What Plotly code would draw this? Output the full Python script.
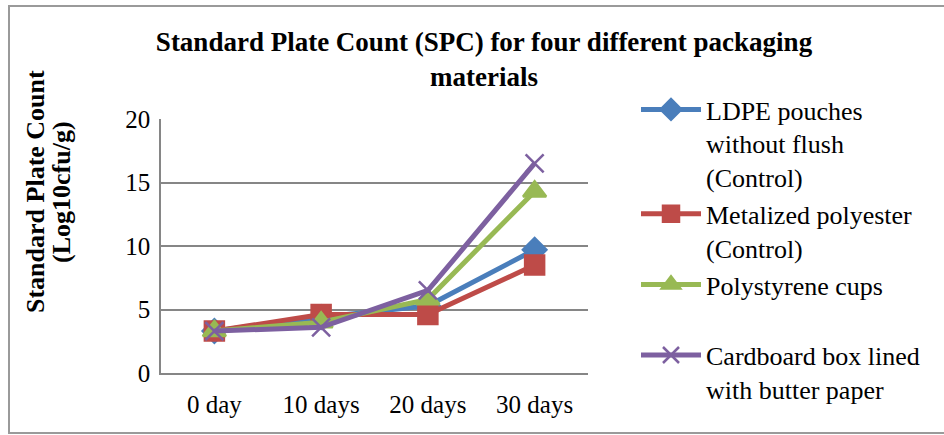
import plotly.graph_objects as go

categories = ["0 day", "10 days", "20 days", "30 days"]
ldpe = [3.3, 4.4, 5.3, 9.7]
metalized = [3.3, 4.6, 4.6, 8.5]
polystyrene = [3.3, 4.0, 5.8, 14.3]
cardboard = [3.3, 3.6, 6.5, 16.5]

series = [
    ("LDPE pouches<br>without flush<br>(Control)", ldpe, "#4A7EBB", "diamond", 18),
    ("Metalized polyester<br>(Control)", metalized, "#BE4B48", "square", 19),
    ("Polystyrene cups<br> ", polystyrene, "#98B954", "triangle-up", 20),
    ("Cardboard box lined<br>with butter paper", cardboard, "#7D60A0", "x-thin", 18),
]

fig = go.Figure()
for i, (name, vals, col, sym, sz) in enumerate(series):
    fig.add_trace(go.Scatter(
        x=categories, y=vals, name=name, mode="lines+markers",
        line=dict(color=col, width=5),
        marker=dict(symbol=sym, size=sz, color=col, line=dict(color=col, width=2.5)),
        legendgroup="g%d" % i,
    ))

font_family = "Liberation Serif, Times New Roman, serif"
L, R, T, B = 161, 356, 119, 62
pw, ph = 944 - L - R, 435 - T - B

def px_x(p):
    return (p - L) / pw

def px_y(p):
    return (435 - B - p) / ph

fig.update_layout(
    width=944, height=435,
    margin=dict(l=L, r=R, t=T, b=B, pad=0),
    paper_bgcolor="white", plot_bgcolor="white",
    font=dict(family=font_family, size=25, color="black"),
    title=dict(text="<b>Standard Plate Count (SPC) for four different packaging<br>materials</b>",
               x=484 / 944, xanchor="center", y=1 - 51 / 435, yanchor="top",
               font=dict(size=27, family=font_family)),
    xaxis=dict(showgrid=False, showline=True, linecolor="#868686", linewidth=1.5,
               range=[-0.5, 3.5], ticks="", tickfont=dict(size=25), ticklabelstandoff=8),
    yaxis=dict(range=[0, 20], tickvals=[0, 5, 10, 15, 20], showgrid=True,
               gridcolor="#868686", gridwidth=1.5, showline=True, linecolor="#868686",
               linewidth=1.5, ticks="", tickfont=dict(size=25), zeroline=False,
               ticklabelstandoff=4),
    legend=dict(x=px_x(636), xanchor="left", y=px_y(86), yanchor="top",
                font=dict(size=26, family=font_family), bgcolor="rgba(0,0,0,0)",
                itemwidth=60, valign="top", tracegroupgap=0, traceorder="grouped",
                maxheight=600),
    showlegend=True,
)

for txt, xp in (("<b>Standard Plate Count</b>", 35), ("<b>(Log10cfu/g)</b>", 61)):
    fig.add_annotation(
        text=txt, textangle=-90,
        xref="paper", yref="paper", x=px_x(xp), y=px_y(192),
        xanchor="center", yanchor="middle", showarrow=False,
        font=dict(size=26, family=font_family),
    )

fig.add_shape(type="rect", xref="paper", yref="paper",
              x0=px_x(9), x1=px_x(960), y0=px_y(433), y1=px_y(6),
              line=dict(color="#9a9a9a", width=2), fillcolor="rgba(0,0,0,0)", layer="below")

fig.write_html("out.html")
